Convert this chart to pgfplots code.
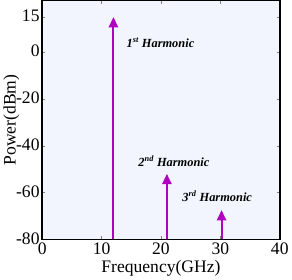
\documentclass[border=0pt]{standalone}
\usepackage{pgfplots}
\pgfplotsset{compat=1.18}
\usepackage{fontspec}
\setmainfont{Liberation Serif}
\usetikzlibrary{arrows.meta}
\definecolor{arr}{RGB}{176,0,192}
\definecolor{bg}{RGB}{242,245,253}
\begin{document}
\begin{tikzpicture}
\begin{axis}[
  scale only axis,
  width=230pt, height=231pt,
  xmin=0, xmax=40, ymin=-80, ymax=22,
  xtick={0,10,20,30,40},
  ytick={-80,-60,-40,-20,0,15},
  axis background/.style={fill=bg},
  axis line style={line width=1.4pt, black},
  tick style={gray, thin},
  major tick length=3pt,
  tick align=inside,
  ticklabel style={font=\fontsize{17}{18}\selectfont},
  /pgf/number format/assume math mode=true,
  xlabel={Frequency(GHz)}, ylabel={Power(dBm)},
  label style={font=\fontsize{17}{18}\selectfont},
  xlabel style={yshift=2pt},
  ylabel style={yshift=-10pt},
  xticklabel style={yshift=0pt},
  yticklabel style={xshift=1pt, yshift=1pt},
  clip=false,
]
\addplot[arr, line width=2pt, -{Triangle[length=10pt,width=9pt]}] coordinates {(12,-80) (12,15)};
\addplot[arr, line width=2pt, -{Triangle[length=10pt,width=9pt]}] coordinates {(21,-80) (21,-52)};
\addplot[arr, line width=2pt, -{Triangle[length=10pt,width=9pt]}] coordinates {(30.2,-80) (30.2,-67.5)};
\node[anchor=west, font=\fontsize{12}{13}\selectfont\bfseries\itshape] at (axis cs:13.6,4) {1\textsuperscript{st} Harmonic};
\node[anchor=west, font=\fontsize{12}{13}\selectfont\bfseries\itshape] at (axis cs:15.6,-46.5) {2\textsuperscript{nd} Harmonic};
\node[anchor=west, font=\fontsize{12}{13}\selectfont\bfseries\itshape] at (axis cs:23,-61.5) {3\textsuperscript{rd} Harmonic};
\end{axis}
\end{tikzpicture}
\end{document}
